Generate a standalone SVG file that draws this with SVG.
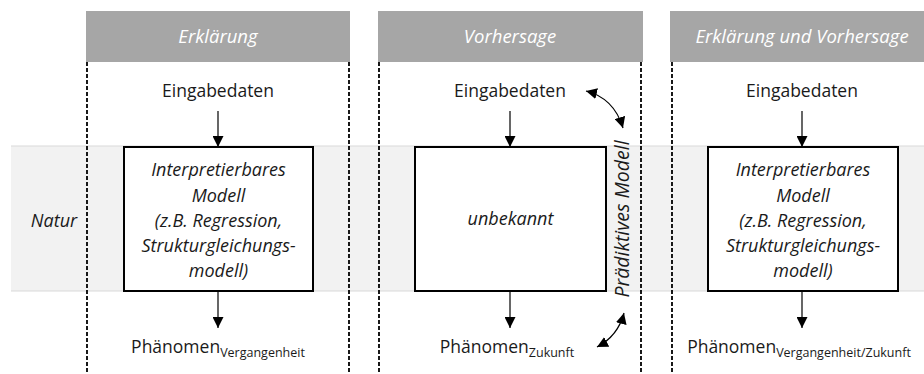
<svg xmlns="http://www.w3.org/2000/svg" width="924" height="374" viewBox="0 0 924 374">
  <style>
    .hdr { fill: #a6a6a6; }
    .hdr-text { font-family: "Open Sans", "Liberation Sans", sans-serif; font-size: 18.5px; font-style: italic; fill: #ffffff; text-anchor: middle; }
    .txt { font-family: "Open Sans", "Liberation Sans", sans-serif; font-size: 17.5px; fill: #1a1a1a; text-anchor: middle; }
    .it { font-style: italic; font-size: 18px; }
    .rot { font-size: 19.5px; }
    .sub { font-size: 12.5px; }
    .lane { stroke: #000; stroke-width: 1.8; stroke-dasharray: 4 2; fill: none; }
    .box { fill: #ffffff; stroke: #000; stroke-width: 2; }
    .edge { stroke: #000; stroke-width: 1.2; fill: none; }
  </style>
  <defs>
    <marker id="tri" viewBox="0 0 10 10" refX="10" refY="5" markerWidth="11" markerHeight="11" markerUnits="userSpaceOnUse" orient="auto-start-reverse">
      <path d="M0,0 L10,5 L0,10 Z" fill="#000"/>
    </marker>
  </defs>

  <!-- background band: nature -->
  <g id="band">
    <rect x="11" y="146" width="913" height="145" fill="#f2f2f2"/>
    <line x1="11" y1="146" x2="924" y2="146" stroke="#d9d9d9" stroke-width="1"/>
    <line x1="11" y1="291" x2="924" y2="291" stroke="#d9d9d9" stroke-width="1"/>
    <text class="txt it" x="54" y="227">Natur</text>
  </g>

  <!-- column headers -->
  <g id="header-erklaerung">
    <rect class="hdr" x="86" y="11" width="264" height="51"/>
    <text class="hdr-text" x="218" y="43">Erklärung</text>
  </g>
  <g id="header-vorhersage">
    <rect class="hdr" x="378" y="11" width="265" height="51"/>
    <text class="hdr-text" x="510" y="43">Vorhersage</text>
  </g>
  <g id="header-beides">
    <rect class="hdr" x="670" y="11" width="254" height="51"/>
    <text class="hdr-text" x="802" y="43">Erklärung und Vorhersage</text>
  </g>

  <!-- column boundaries -->
  <g id="lanes">
    <line class="lane" x1="87" y1="62" x2="87" y2="374"/>
    <line class="lane" x1="349" y1="62" x2="349" y2="374"/>
    <line class="lane" x1="379" y1="62" x2="379" y2="374"/>
    <line class="lane" x1="641" y1="62" x2="641" y2="374"/>
    <line class="lane" x1="672" y1="62" x2="672" y2="374"/>
  </g>

  <!-- column 1 -->
  <g id="input-1"><text class="txt" x="218" y="97">Eingabedaten</text></g>
  <g id="model-1">
    <rect class="box" x="124" y="147" width="189" height="144"/>
    <text class="txt it" x="218.5" y="176">Interpretierbares</text>
    <text class="txt it" x="218.5" y="201.5">Modell</text>
    <text class="txt it" x="218.5" y="227">(z.B. Regression,</text>
    <text class="txt it" x="218.5" y="252">Strukturgleichungs-</text>
    <text class="txt it" x="218.5" y="277">modell)</text>
  </g>
  <g id="output-1"><text class="txt" x="218" y="353">Phänomen<tspan class="sub" dy="4">Vergangenheit</tspan></text></g>

  <!-- column 2 -->
  <g id="input-2"><text class="txt" x="510" y="97">Eingabedaten</text></g>
  <g id="model-2">
    <rect class="box" x="415" y="147" width="191" height="144"/>
    <text class="txt it" x="510.5" y="225">unbekannt</text>
  </g>
  <g id="output-2"><text class="txt" x="507" y="353">Phänomen<tspan class="sub" dy="4">Zukunft</tspan></text></g>
  <g id="label-praediktiv">
    <text class="txt it rot" transform="translate(629 219) rotate(-90)">Prädiktives Modell</text>
  </g>

  <!-- column 3 -->
  <g id="input-3"><text class="txt" x="802" y="97">Eingabedaten</text></g>
  <g id="model-3">
    <rect class="box" x="708" y="147" width="190" height="144"/>
    <text class="txt it" x="803" y="176">Interpretierbares</text>
    <text class="txt it" x="803" y="201.5">Modell</text>
    <text class="txt it" x="803" y="227">(z.B. Regression,</text>
    <text class="txt it" x="803" y="252">Strukturgleichungs-</text>
    <text class="txt it" x="803" y="277">modell)</text>
  </g>
  <g id="output-3"><text class="txt" x="799" y="353">Phänomen<tspan class="sub" dy="4">Vergangenheit/Zukunft</tspan></text></g>

  <!-- connectors -->
  <g id="connectors">
    <line class="edge" x1="218" y1="111" x2="218" y2="147" marker-end="url(#tri)"/>
    <line class="edge" x1="218" y1="291" x2="218" y2="328" marker-end="url(#tri)"/>
    <line class="edge" x1="510" y1="111" x2="510" y2="147" marker-end="url(#tri)"/>
    <line class="edge" x1="510" y1="291" x2="510" y2="328" marker-end="url(#tri)"/>
    <line class="edge" x1="802" y1="111" x2="802" y2="147" marker-end="url(#tri)"/>
    <line class="edge" x1="802" y1="291" x2="802" y2="328" marker-end="url(#tri)"/>
    <path class="edge" d="M586,91 Q614,98 623,128" marker-start="url(#tri)" marker-end="url(#tri)"/>
    <path class="edge" d="M597,347 Q618,336 624,313" marker-start="url(#tri)" marker-end="url(#tri)"/>
  </g>
</svg>
